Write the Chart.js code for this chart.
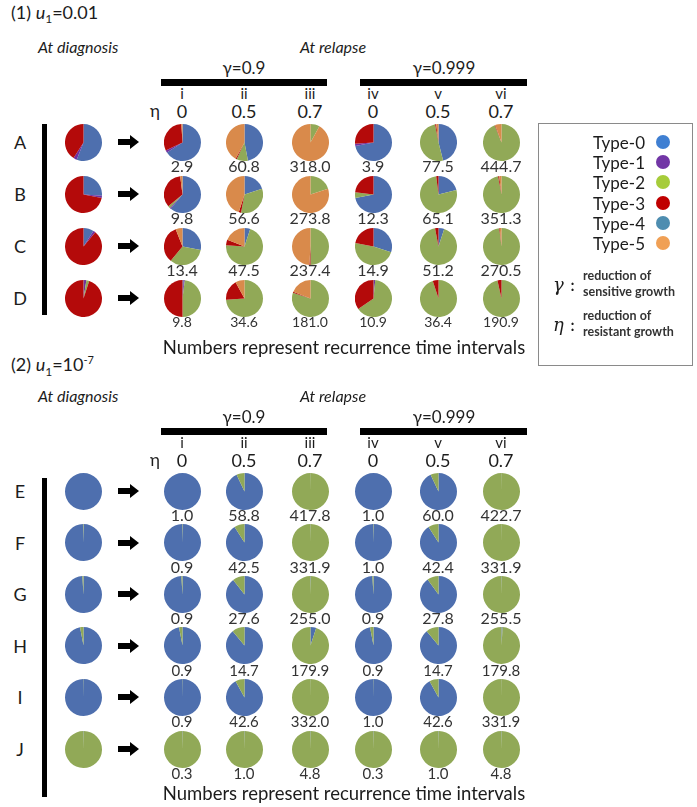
<!DOCTYPE html><html>
<meta charset="UTF-8">
<script src="https://cdn.jsdelivr.net/npm/chart.js@4/dist/chart.umd.min.js"></script>
<style>
body{margin:0;background:#fff;}
#page{position:relative;width:697px;height:807px;overflow:hidden;font-family:Lato,"Open Sans",sans-serif;color:#1c1c1c;}
.t{position:absolute;white-space:nowrap;transform:translate(-50%,-50%);line-height:1;}
.l{position:absolute;white-space:nowrap;transform:translate(0,-50%);line-height:1;}
.blk{position:absolute;background:#000;}
canvas{position:absolute;}
</style>
<div id="page"></div>
<script>
// ---- data ----
var types = ['Type-0','Type-1','Type-2','Type-3','Type-4','Type-5'];
var romans = ['i','ii','iii','iv','v','vi'];
var etas = ['0','0.5','0.7','0','0.5','0.7'];
var gammas = ['γ=0.9','γ=0.999'];
var rows1 = ['A','B','C','D'];
var rows2 = ['E','F','G','H','I','J'];

// fractions of Type-0..Type-5, at diagnosis
var diag1 = [
  [0.56,0.03,0,0.41,0,0],
  [0.26,0.02,0,0.72,0,0],
  [0.09,0.02,0,0.89,0,0],
  [0.005,0.02,0.025,0.95,0,0]
];
// at relapse, columns i..vi
var relapse1 = [
  [[0.66,0.02,0,0.31,0,0.01],[0.47,0,0.10,0.01,0,0.42],[0,0,0.08,0,0,0.92],[0.72,0.02,0,0.26,0,0],[0.46,0,0.51,0.01,0,0.02],[0,0,0.94,0.005,0,0.055]],
  [[0.61,0.01,0.02,0.34,0,0.02],[0.20,0,0.33,0.02,0,0.45],[0,0,0.20,0,0,0.80],[0.72,0,0.05,0.23,0,0],[0.21,0,0.77,0.02,0,0],[0,0,0.97,0.01,0,0.02]],
  [[0.28,0,0.33,0.33,0,0.06],[0.05,0,0.71,0.05,0,0.19],[0,0,0.50,0.01,0,0.49],[0.30,0,0.48,0.22,0,0],[0.05,0,0.92,0.03,0,0],[0,0,0.98,0.005,0,0.015]],
  [[0.01,0.01,0.48,0.50,0,0],[0,0,0.74,0.18,0,0.08],[0,0,0.80,0.01,0,0.19],[0.005,0.01,0.64,0.345,0,0],[0,0,0.95,0.05,0,0],[0,0,0.965,0.035,0,0]]
];
var times1 = [
  ['2.9','60.8','318.0','3.9','77.5','444.7'],
  ['9.8','56.6','273.8','12.3','65.1','351.3'],
  ['13.4','47.5','237.4','14.9','51.2','270.5'],
  ['9.8','34.6','181.0','10.9','36.4','190.9']
];

var diag2 = [
  [1,0,0,0,0,0],
  [0.995,0,0.005,0,0,0],
  [0.99,0,0.01,0,0,0],
  [0.97,0,0.03,0,0,0],
  [0.998,0,0.002,0,0,0],
  [0.004,0,0.996,0,0,0]
];
var relapse2 = [
  [[1,0,0,0,0,0],[0.93,0,0.07,0,0,0],[0.002,0,0.998,0,0,0],[1,0,0,0,0,0],[0.93,0,0.07,0,0,0],[0.002,0,0.998,0,0,0]],
  [[0.996,0,0.004,0,0,0],[0.91,0,0.09,0,0,0],[0.003,0,0.997,0,0,0],[0.996,0,0.004,0,0,0],[0.91,0,0.09,0,0,0],[0.002,0,0.998,0,0,0]],
  [[0.99,0,0.01,0,0,0],[0.895,0,0.105,0,0,0],[0.005,0,0.995,0,0,0],[0.99,0,0.01,0,0,0],[0.90,0,0.10,0,0,0],[0.004,0,0.996,0,0,0]],
  [[0.97,0,0.03,0,0,0],[0.89,0,0.11,0,0,0],[0.05,0,0.95,0,0,0],[0.97,0,0.03,0,0,0],[0.89,0,0.11,0,0,0],[0.01,0,0.99,0,0,0]],
  [[0.998,0,0.002,0,0,0],[0.92,0,0.08,0,0,0],[0.002,0,0.998,0,0,0],[0.998,0,0.002,0,0,0],[0.92,0,0.08,0,0,0],[0.002,0,0.998,0,0,0]],
  [[0.004,0,0.996,0,0,0],[0.004,0,0.996,0,0,0],[0.004,0,0.996,0,0,0],[0.004,0,0.996,0,0,0],[0.004,0,0.996,0,0,0],[0.004,0,0.996,0,0,0]]
];
var times2 = [
  ['1.0','58.8','417.8','1.0','60.0','422.7'],
  ['0.9','42.5','331.9','1.0','42.4','331.9'],
  ['0.9','27.6','255.0','0.9','27.8','255.5'],
  ['0.9','14.7','179.9','0.9','14.7','179.8'],
  ['0.9','42.6','332.0','1.0','42.6','331.9'],
  ['0.3','1.0','4.8','0.3','1.0','4.8']
];

// ---- styles / layout ----
var pieColors = ['#4e6fae','#7030a0','#91a957','#b40a0a','#4a8cb0','#d98a4b'];
var dotColors = ['#3f7fd2','#7236a6','#a6cc3a','#c00000','#4e8db0','#f0a055'];
var colX = [182,244,310,373,438,501];
var diagX = 83;
var D = 37;
var page = document.getElementById('page');

function txt(html, x, y, css, left){
  var d = document.createElement('div');
  d.className = left ? 'l' : 't';
  d.innerHTML = html;
  d.style.left = x + 'px'; d.style.top = y + 'px';
  d.style.cssText += css || '';
  page.appendChild(d);
  return d;
}
function blk(x, y, w, h){
  var d = document.createElement('div');
  d.className = 'blk';
  d.style.left = x+'px'; d.style.top = y+'px'; d.style.width = w+'px'; d.style.height = h+'px';
  page.appendChild(d);
}
function arrow(y){
  blk(118, y-3, 13, 6);
  var h = document.createElement('div');
  h.style.cssText = 'position:absolute;width:0;height:0;border-left:9px solid #000;border-top:7px solid transparent;border-bottom:7px solid transparent;left:130px;top:'+(y-7)+'px';
  page.appendChild(h);
}
function pie(vals, cx, cy){
  var c = document.createElement('canvas');
  c.width = D; c.height = D;
  c.style.left = (cx - D/2) + 'px'; c.style.top = (cy - D/2) + 'px';
  page.appendChild(c);
  new Chart(c, {
    type: 'pie',
    data: { labels: types, datasets: [{ data: vals, backgroundColor: pieColors, borderWidth: 0 }] },
    options: {
      responsive: false, animation: false, events: [],
      plugins: { legend: {display:false}, tooltip: {enabled:false} }
    }
  });
}

// L: layout offsets for one panel
function section(L, title, rows, diag, relapse, times, lblSize){
  var y0 = L.y0;
  txt(title, 11, L.title, 'font-size:18px', true);
  txt('<i>At diagnosis</i>', 38, y0+33, 'font-size:16px', true);
  txt('<i>At relapse</i>', 333, y0+33, 'font-size:16px');
  txt(gammas[0], 244, y0+53, 'font-size:17px');
  txt(gammas[1], 444, y0+53, 'font-size:17px');
  blk(161, y0+65, 166, 7);
  blk(360, y0+65, 167, 7);
  for (var j = 0; j < 6; j++){
    txt(romans[j], colX[j], y0+79, 'font-size:15px');
    txt(etas[j], colX[j], y0+97, 'font-size:18px');
  }
  txt('η', 155, y0+96, 'font-size:17px');
  var rowY = y0 + 128;
  for (var r = 0; r < rows.length; r++){
    var y = rowY + r*L.step;
    txt(rows[r], 20, y, 'font-size:18px');
    pie(diag[r], diagX, y);
    arrow(y);
    for (var j = 0; j < 6; j++){
      pie(relapse[r][j], colX[j], y);
      txt(times[r][j], colX[j], y+24, 'font-size:'+lblSize[r]+'px;color:#333');
    }
  }
  blk(42, L.barTop, 5, L.barBot - L.barTop);
  txt('Numbers represent recurrence time intervals', 344, L.foot, 'font-size:18.5px');
}

section({y0:14, title:14, step:52, barTop:124, barBot:315, foot:347},
  '(1) <i>u</i><sub style="font-size:12px">1</sub>=0.01', rows1, diag1, relapse1, times1, [16,16,16,14]);
section({y0:363, title:366, step:51.6, barTop:478, barBot:797, foot:793},
  '(2) <i>u</i><sub style="font-size:12px">1</sub>=10<sup style="font-size:11px">-7</sup>', rows2, diag2, relapse2, times2, [16,16,16,15,15,15]);

// legend box
var box = document.createElement('div');
box.style.cssText = 'position:absolute;left:538px;top:123px;width:155px;height:243px;border:1px solid #8a8a8a;box-sizing:border-box;';
page.appendChild(box);
for (var k = 0; k < types.length; k++){
  var ly = 142 + k*20.2;
  var d = txt(types[k], 645, ly, 'font-size:17px');
  d.style.transform = 'translate(-100%,-50%)';
  var dot = document.createElement('div');
  dot.style.cssText = 'position:absolute;width:14px;height:14px;border-radius:50%;left:656px;top:'+(ly-7)+'px;background:'+dotColors[k];
  page.appendChild(dot);
}
txt('<i>γ</i> :', 553, 285, 'font-size:18px;font-family:"DejaVu Serif",serif', true);
txt('reduction of', 583, 276, 'font-size:12.5px;font-weight:bold;color:#333', true);
txt('sensitive growth', 583, 292, 'font-size:12.5px;font-weight:bold;color:#333', true);
txt('<i>η</i> :', 553, 325, 'font-size:18px;font-family:"DejaVu Serif",serif', true);
txt('reduction of', 583, 316, 'font-size:12.5px;font-weight:bold;color:#333', true);
txt('resistant growth', 583, 332, 'font-size:12.5px;font-weight:bold;color:#333', true);
</script>
</html>
